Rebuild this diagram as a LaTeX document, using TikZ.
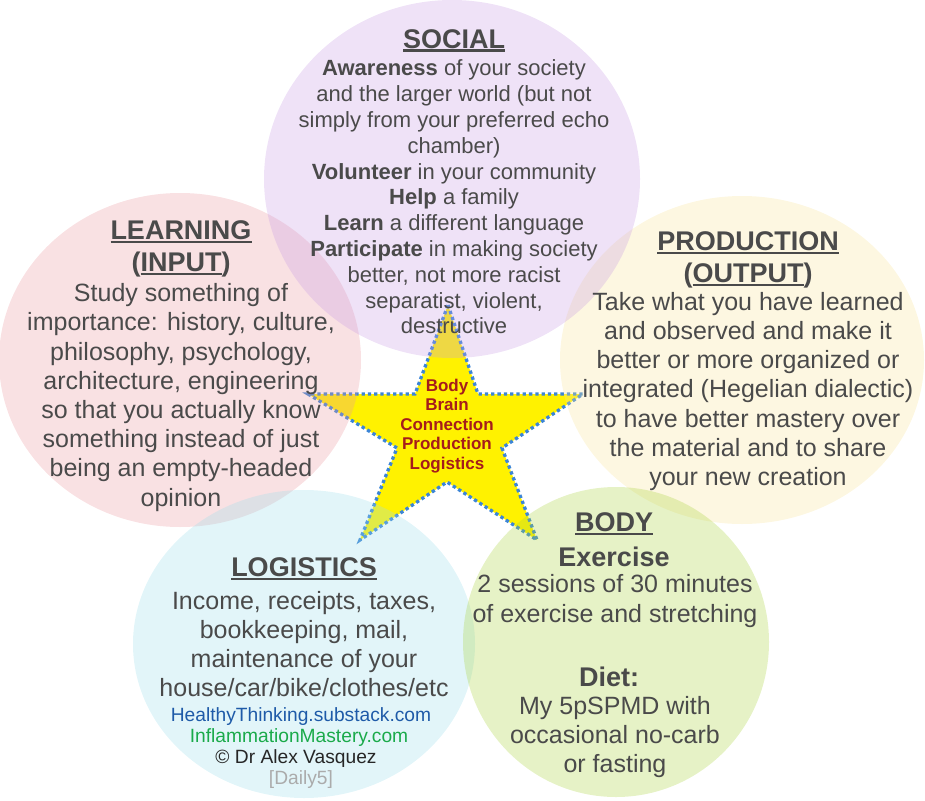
\documentclass[tikz,border=0pt]{standalone}
\usepackage{fontspec}
\setmainfont{Liberation Sans}
\definecolor{txt}{HTML}{4A4A4A}
\definecolor{socc}{HTML}{CA9EE4}
\definecolor{learnc}{HTML}{EB9BA2}
\definecolor{prodc}{HTML}{F8E49B}
\definecolor{logc}{HTML}{9EDEEB}
\definecolor{bodyc}{HTML}{ACD441}
\definecolor{starline}{HTML}{3C85D6}
\definecolor{startxt}{HTML}{A51C1C}
\definecolor{linkblue}{HTML}{1E5AA8}
\definecolor{linkgreen}{HTML}{1AAA4A}
\definecolor{daily}{HTML}{ABABAB}
\newcommand{\hul}[1]{\setbox0\hbox{#1}\rlap{\copy0}\rule[-3.8pt]{\wd0}{2.4pt}}
\tikzset{
  blob/.style={fill opacity=0.3},
  headtxt/.style={text=txt, align=center, inner sep=0pt, font=\fontsize{27}{32}\selectfont\bfseries},
  bodytxt/.style={text=txt, align=center, inner sep=0pt, font=\fontsize{25}{29.2}\selectfont},
  linktxt/.style={inner sep=0pt, font=\fontsize{19.2}{21}\selectfont},
  starshape/.style={fill=yellow, draw=starline, line width=3.3pt, dash pattern=on 3.3pt off 3pt, line join=miter},
  starlabel/.style={text=startxt, align=center, inner sep=0pt, font=\fontsize{17}{19.5}\selectfont\bfseries}
}
\begin{document}
\begin{tikzpicture}[x=1pt,y=-1pt]
\useasboundingbox (0,0) rectangle (925,800);
% star (below the circles)
\path[starshape] (448,305) -- (478,394) -- (583,394) -- (502,448) -- (537,540) -- (447,482) -- (360,540) -- (397,448) -- (308,394) -- (415,394) -- cycle;
% circles
\fill[learnc, blob] (180,360) ellipse [x radius=181pt, y radius=167pt];
\fill[prodc, blob] (742,360) ellipse [x radius=182pt, y radius=164pt];
\fill[socc, blob] (452,179) ellipse [x radius=188pt, y radius=179pt];
\fill[logc, blob] (304,644) ellipse [x radius=171pt, y radius=154pt];
\fill[bodyc, blob] (616,642) ellipse [x radius=153pt, y radius=155pt];
% star label
\node[starlabel] (starlbl) at (447,426) {Body\\Brain\\Connection\\Production\\Logistics};
% SOCIAL
\node[headtxt] (sochead) at (454,40.5) {\hul{SOCIAL}};
\node[bodytxt, font=\fontsize{22}{25.8}\selectfont] (socbody) at (454,197) {\textbf{Awareness} of your society\\and the larger world (but not\\simply from your preferred echo\\chamber)\\\textbf{Volunteer} in your community\\\textbf{Help} a family\\\textbf{Learn} a different language\\\textbf{Participate} in making society\\better, not more racist\\separatist, violent,\\destructive};
% LEARNING
\node[headtxt] (learnhead) at (181,249) {\hul{LEARNING}\\(\hul{INPUT})};
\node[bodytxt] (learnbody) at (181,397.5) {Study something of\\importance: history, culture,\\philosophy, psychology,\\architecture, engineering\\so that you actually know\\something instead of just\\being an empty-headed\\opinion};
% PRODUCTION
\node[headtxt] (prodhead) at (748,259.5) {\hul{PRODUCTION}\\(\hul{OUTPUT})};
\node[bodytxt] (prodbody) at (748,391.5) {Take what you have learned\\and observed and make it\\better or more organized or\\integrated (Hegelian dialectic)\\to have better mastery over\\the material and to share\\your new creation};
% BODY
\node[headtxt] (bodyhead) at (614,524) {\hul{BODY}};
\node[headtxt] (exhead) at (614,557) {Exercise};
\node[bodytxt] (exbody) at (615,601) {2 sessions of 30 minutes\\of exercise and stretching};
\node[headtxt] (diethead) at (609,677) {Diet:};
\node[bodytxt] (dietbody) at (615,737) {My 5pSPMD with\\occasional no-carb\\or fasting};
% LOGISTICS
\node[headtxt] (loghead) at (304,569) {\hul{LOGISTICS}};
\node[bodytxt] (logbody) at (304,644) {Income, receipts, taxes,\\bookkeeping, mail,\\maintenance of your\\house/car/bike/clothes/etc};
\node[linktxt, text=linkblue] (link1) at (301,717) {HealthyThinking.substack.com};
\node[linktxt, text=linkgreen] (link2) at (299,738) {InflammationMastery.com};
\node[linktxt, text=black!85] (author) at (296,759) {© Dr Alex Vasquez};
\node[linktxt, text=daily] (daily) at (301,780) {[Daily5]};
\end{tikzpicture}
\end{document}
